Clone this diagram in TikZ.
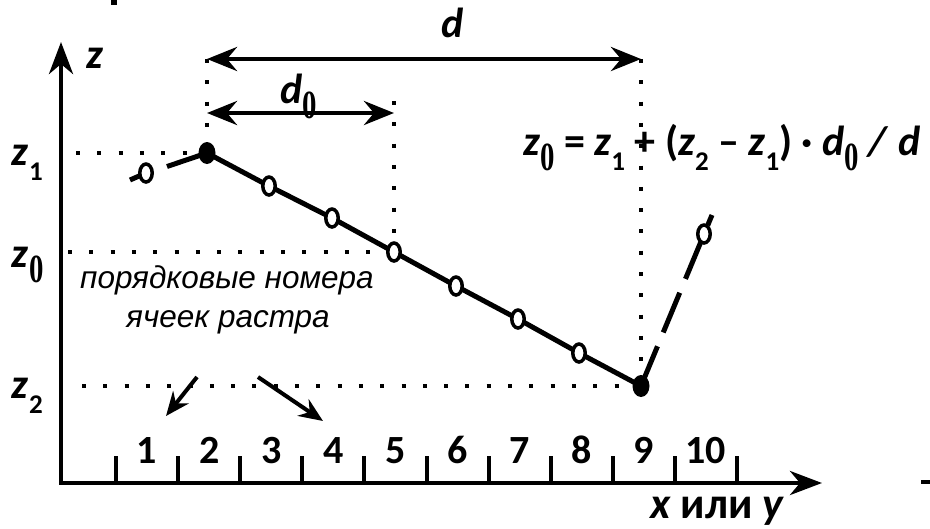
\documentclass[tikz,border=0pt]{standalone}
\usepackage{fontspec}
\usepackage{graphicx}
\setmainfont{Carlito}
\newfontfamily\arialf{Liberation Sans}
\newfontfamily\serf{Liberation Serif}
\usetikzlibrary{arrows.meta}
\newcommand\sbzero{\raisebox{-15pt}{\scalebox{0.72}[1]{\fontsize{40}{40}\selectfont\serf\bfseries 0}}}
\newcommand\sbnum[1]{\raisebox{-15pt}{\fontsize{27}{27}\selectfont\bfseries #1}}
\newcommand\iz{\textbf{\textit{z}}}
\newcommand\id{\textbf{\textit{d}}}
\tikzset{
  axisline/.style={line width=4.5pt,-{Stealth[length=32pt,width=24pt,inset=10pt]}},
  dimarrow/.style={line width=4.5pt,{Stealth[length=30pt,width=24pt,inset=10pt]}-{Stealth[length=30pt,width=24pt,inset=10pt]}},
  ptrarrow/.style={line width=4pt,-{Stealth[length=24pt,width=20pt,inset=8pt]}},
  dotline/.style={line width=4pt,dash pattern=on 4pt off 17.3pt},
  curveline/.style={line width=5pt},
  tickline/.style={line width=4pt},
  lbl/.style={inner sep=0pt,font=\fontsize{42}{46}\selectfont\bfseries},
  numlbl/.style={inner sep=0pt,anchor=base,font=\fontsize{40}{42}\selectfont\bfseries},
  rulab/.style={inner sep=0pt,anchor=base,font=\fontsize{31.5}{34}\selectfont\arialf\itshape}
}
\begin{document}
\begin{tikzpicture}[x=1pt,y=-1pt]
\useasboundingbox (0,0) rectangle (930,528);
% stray marks
\fill (111,0) rectangle (117,5);
\draw[line width=4.5pt] (921,482) -- (930,482);
% axes
\coordinate (O) at (61,483);
\coordinate (Ztop) at (61,42);
\coordinate (Xend) at (822,483);
\coordinate (Xstart) at (59,483);
\draw[axisline] (O) -- (Ztop);
\draw[axisline] (Xstart) -- (Xend);
% ticks and numbers
\foreach \k in {0,...,10}{
  \coordinate (T\k) at ({116+62.1*\k},483);
  \draw[tickline] (T\k) -- ++(0,-27);
}
\foreach \k/\t in {1/1,2/2,3/3,4/4,5/5,6/6,7/7,8/8,9/9,10/10}{
  \node[numlbl] (N\k) at ({116+62.1*(\k-0.5)},463) {\t};
}
% points
\coordinate (P1) at (146,173);
\coordinate (P2) at (207,153);
\coordinate (P3) at (269,186);
\coordinate (P4) at (332,218);
\coordinate (P5) at (394,252);
\coordinate (P6) at (456,286);
\coordinate (P7) at (518,319);
\coordinate (P8) at (579,353);
\coordinate (P9) at (641,386);
\coordinate (P10) at (704,234);
\coordinate (L0) at (130,180);
\coordinate (G1) at (167,166.5);
\coordinate (E10) at (712,215);
% dimension arrows
\coordinate (A1) at (207,59);
\coordinate (A2) at (641,59);
\coordinate (B1) at (207,113);
\coordinate (B2) at (394,113);
\coordinate (B0) at (394,101);
% dotted guides
\draw[dotline] (76,153) -- (P2);
\draw[dotline] (68,252) -- (P5);
\draw[dotline] (82,386) -- (P9);
\draw[dotline] (A1) -- (P2);
\draw[dotline] (B0) -- (P5);
\draw[dotline] (A2) -- (P9);
\draw[dimarrow] (A1) -- (A2);
\draw[dimarrow] (B1) -- (B2);
% curve
\draw[curveline] (L0) -- (P1);
\draw[curveline] (G1) -- (P2);
\draw[curveline] (P2) -- (P3) -- (P4) -- (P5) -- (P6) -- (P7) -- (P8) -- (P9);
\draw[curveline,dash pattern=on 43pt off 15pt] (P9) -- (E10);
\foreach \p in {P1,P3,P4,P5,P6,P7,P8,P10}{
  \draw[line width=3.5pt,fill=white] (\p) ellipse [x radius=6.2pt, y radius=9pt];
}
\fill (P2) ellipse [x radius=8.5pt, y radius=11pt];
\fill (P9) ellipse [x radius=8.5pt, y radius=11pt];
% labels
\node[lbl,anchor=base west] (zax) at (86,68) {\iz};
\node[lbl,anchor=base west] (z1l) at (11,165) {\iz\kern1pt\sbnum{1}};
\node[lbl,anchor=base west] (z0l) at (11,267) {\iz\kern1pt\sbzero};
\node[lbl,anchor=base west] (z2l) at (11,398) {\iz\kern1pt\sbnum{2}};
\node[lbl,anchor=base west] (dl) at (441,37) {\id};
\node[lbl,anchor=base west] (d0l) at (280,103) {\id\sbzero};
\node[lbl,anchor=base west] (form) at (523,155) {\iz\sbzero{} = \iz\sbnum{1} + (\iz\sbnum{2} – \iz\sbnum{1}) · \id\sbzero{} \textit{/} \id};
\node[lbl,anchor=base west,font=\fontsize{44}{46}\selectfont\bfseries] (xy) at (650,518) {\textit{x} или \textit{y}};
\node[rulab] (ru1) at (227,288) {порядковые номера};
\node[rulab] (ru2) at (228,327) {ячеек растра};
% pointer arrows
\coordinate (R1) at (197,377);
\coordinate (R1e) at (166,416);
\coordinate (R2) at (258,377);
\coordinate (R2e) at (323,421);
\draw[ptrarrow] (R1) -- (R1e);
\draw[ptrarrow] (R2) -- (R2e);
\end{tikzpicture}
\end{document}
